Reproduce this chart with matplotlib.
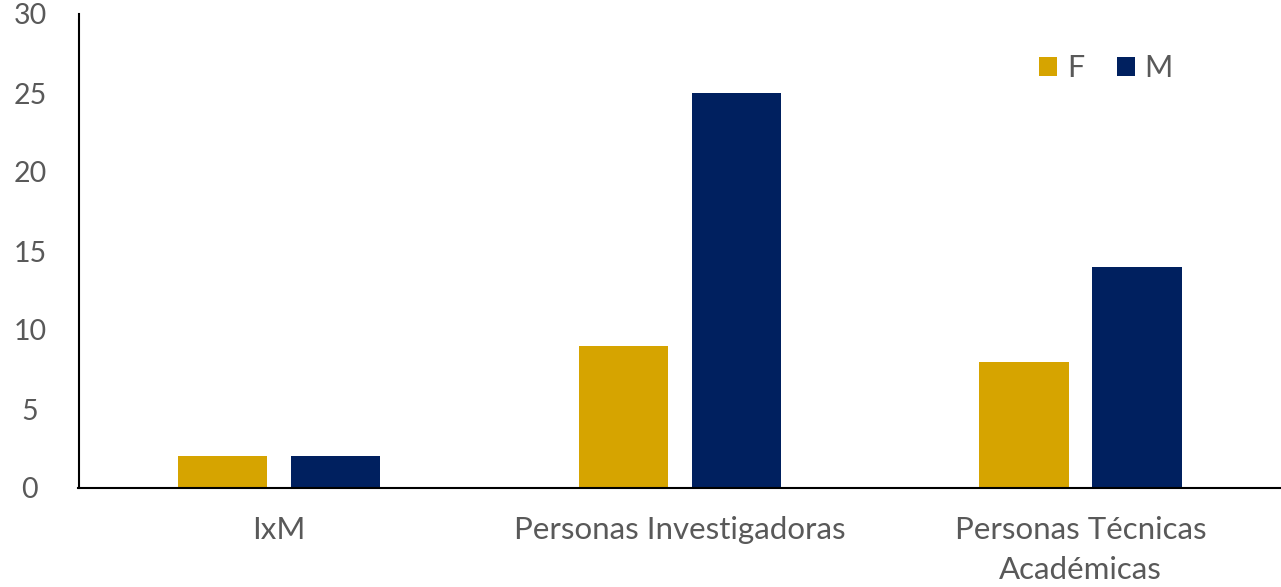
import matplotlib
matplotlib.use("Agg")
import matplotlib.pyplot as plt
import numpy as np

categories = ["IxM", "Personas Investigadoras", "Personas Técnicas\nAcadémicas"]
series_names = ["F", "M"]
values_f = [2, 9, 8]
values_m = [2, 25, 14]
yticks = [0, 5, 10, 15, 20, 25, 30]

colors = {"F": "#D6A400", "M": "#00205F"}
text_color = "#595959"

plt.rcParams['font.family'] = ['Lato', 'DejaVu Sans']

fig = plt.figure(figsize=(12.81, 5.87), dpi=100)
ax = fig.add_axes([78.5/1281, 1 - 488/587, 1 - 78.5/1281, (488 - 14)/587])

x = np.arange(len(categories))
w = 0.223
off = 0.141
ax.bar(x - off, values_f, width=w, color=colors["F"], label="F")
ax.bar(x + off, values_m, width=w, color=colors["M"], label="M")

ax.set_xlim(-0.5, len(categories) - 0.5)
ax.set_ylim(0, 30)
ax.set_yticks(yticks)
ax.set_yticklabels([str(t) for t in yticks])
ax.set_xticks(x)
ax.set_xticklabels(categories, linespacing=1.55)

for s in ["top", "right"]:
    ax.spines[s].set_visible(False)
for s in ["left", "bottom"]:
    ax.spines[s].set_color("black")
    ax.spines[s].set_linewidth(1.5)

ax.tick_params(axis="y", length=0, pad=35, labelsize=20.5, labelcolor=text_color)
ax.tick_params(axis="x", length=0, pad=20, labelsize=22.5, labelcolor=text_color)
for lab in ax.get_yticklabels():
    lab.set_horizontalalignment("center")

leg = ax.legend(ncol=2, frameon=False, fontsize=22, labelcolor=text_color,
                handlelength=0.59, handleheight=0.59, handletextpad=0.33,
                columnspacing=1.05, borderpad=0, loc="center left",
                bbox_to_anchor=(1024/1281, 1 - 68/587), bbox_transform=fig.transFigure)

fig.savefig("out.png", dpi=100)
